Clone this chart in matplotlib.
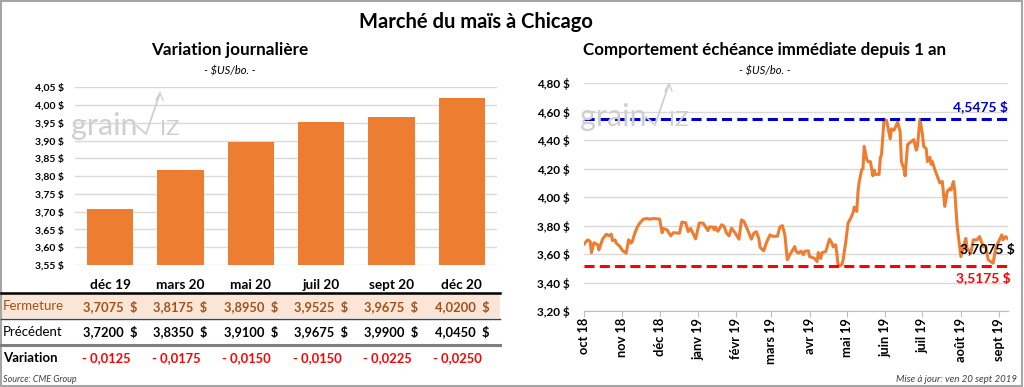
import matplotlib.pyplot as plt
from matplotlib.patches import Rectangle
from matplotlib.lines import Line2D
import matplotlib.transforms as mtransforms
import pandas as pd

plt.rcParams['font.family'] = ['Lato', 'DejaVu Sans']

# --- données : variation journalière ---
echeances = ["déc 19", "mars 20", "mai 20", "juil 20", "sept 20", "déc 20"]
fermeture = [3.7075, 3.8175, 3.8950, 3.9525, 3.9675, 4.0200]
precedent = [3.7200, 3.8350, 3.9100, 3.9675, 3.9900, 4.0450]

# --- données : échéance immédiate depuis 1 an ---
dates = ["2018-10-01", "2018-10-04", "2018-10-06", "2018-10-07", "2018-10-09", "2018-10-12",
         "2018-10-13", "2018-10-16", "2018-10-19", "2018-10-21", "2018-10-23", "2018-10-24",
         "2018-10-26", "2018-10-27", "2018-10-30", "2018-11-01", "2018-11-04", "2018-11-06",
         "2018-11-08", "2018-11-09", "2018-11-11", "2018-11-13", "2018-11-15", "2018-11-18",
         "2018-11-21", "2018-11-23", "2018-11-26", "2018-12-01", "2018-12-03", "2018-12-04",
         "2018-12-07", "2018-12-10", "2018-12-12", "2018-12-17", "2018-12-19", "2018-12-22",
         "2018-12-24", "2018-12-26", "2018-12-30", "2019-01-02", "2019-01-05", "2019-01-09",
         "2019-01-10", "2019-01-13", "2019-01-14", "2019-01-15", "2019-01-17", "2019-01-20",
         "2019-01-22", "2019-01-24", "2019-01-26", "2019-01-28", "2019-01-31", "2019-02-03",
         "2019-02-05", "2019-02-07", "2019-02-09", "2019-02-13", "2019-02-15", "2019-02-17",
         "2019-02-19", "2019-02-20", "2019-02-23", "2019-02-25", "2019-02-28", "2019-03-02",
         "2019-03-06", "2019-03-08", "2019-03-10", "2019-03-12", "2019-03-14", "2019-03-16",
         "2019-03-20", "2019-03-21", "2019-03-23", "2019-03-25", "2019-03-27", "2019-03-28",
         "2019-03-31", "2019-04-01", "2019-04-05", "2019-04-07", "2019-04-08", "2019-04-10",
         "2019-04-11", "2019-04-14", "2019-04-17", "2019-04-19", "2019-04-20", "2019-04-22",
         "2019-04-23", "2019-04-24", "2019-04-27", "2019-04-28", "2019-04-30", "2019-05-02",
         "2019-05-04", "2019-05-06", "2019-05-07", "2019-05-09", "2019-05-10", "2019-05-11",
         "2019-05-13", "2019-05-14", "2019-05-15", "2019-05-17", "2019-05-18", "2019-05-20",
         "2019-05-22", "2019-05-23", "2019-05-24", "2019-05-27", "2019-05-28", "2019-05-29",
         "2019-05-31", "2019-06-02", "2019-06-05", "2019-06-06", "2019-06-08", "2019-06-11",
         "2019-06-13", "2019-06-14", "2019-06-16", "2019-06-17", "2019-06-19", "2019-06-22",
         "2019-06-24", "2019-06-26", "2019-06-27", "2019-06-29", "2019-07-01", "2019-07-02",
         "2019-07-04", "2019-07-05", "2019-07-07", "2019-07-08", "2019-07-09", "2019-07-11",
         "2019-07-13", "2019-07-15", "2019-07-17", "2019-07-19", "2019-07-21", "2019-07-23",
         "2019-07-24", "2019-07-26", "2019-07-27", "2019-07-29", "2019-08-01", "2019-08-03",
         "2019-08-05", "2019-08-06", "2019-08-09", "2019-08-11", "2019-08-14", "2019-08-16",
         "2019-08-19", "2019-08-21", "2019-08-23", "2019-08-27", "2019-08-29", "2019-08-31",
         "2019-09-03", "2019-09-04", "2019-09-06", "2019-09-08"]
prix = [3.670, 3.700, 3.688, 3.610, 3.680, 3.665,
        3.630, 3.705, 3.740, 3.728, 3.740, 3.695,
        3.700, 3.677, 3.653, 3.625, 3.606, 3.700,
        3.677, 3.690, 3.747, 3.790, 3.818, 3.846,
        3.850, 3.845, 3.850, 3.846, 3.750, 3.780,
        3.770, 3.728, 3.750, 3.747, 3.825, 3.820,
        3.758, 3.780, 3.707, 3.818, 3.818, 3.765,
        3.790, 3.790, 3.770, 3.790, 3.760, 3.806,
        3.795, 3.747, 3.728, 3.782, 3.747, 3.705,
        3.840, 3.830, 3.790, 3.705, 3.747, 3.757,
        3.710, 3.648, 3.623, 3.677, 3.735, 3.725,
        3.725, 3.790, 3.800, 3.735, 3.560, 3.595,
        3.653, 3.620, 3.607, 3.620, 3.595, 3.620,
        3.623, 3.582, 3.570, 3.547, 3.610, 3.570,
        3.610, 3.618, 3.705, 3.677, 3.650, 3.665,
        3.600, 3.5175, 3.525, 3.560, 3.677, 3.818,
        3.850, 3.890, 3.930, 3.900, 4.040, 4.110,
        4.193, 4.200, 4.357, 4.268, 4.250, 4.250,
        4.150, 4.190, 4.160, 4.160, 4.275, 4.300,
        4.5475, 4.540, 4.410, 4.480, 4.470, 4.526,
        4.460, 4.250, 4.200, 4.150, 4.370, 4.390,
        4.404, 4.330, 4.360, 4.5475, 4.440, 4.357,
        4.340, 4.250, 4.280, 4.230, 4.250, 4.193,
        4.146, 4.100, 4.110, 3.935, 4.040, 4.060,
        4.050, 4.110, 4.050, 3.794, 3.582, 3.653,
        3.710, 3.640, 3.606, 3.700, 3.700, 3.723,
        3.653, 3.660, 3.560, 3.536, 3.640, 3.680,
        3.735, 3.700, 3.723, 3.7075]
mois = ["oct 18", "nov 18", "déc 18", "janv 19", "févr 19", "mars 19",
        "avr 19", "mai 19", "juin 19", "juil 19", "août 19", "sept 19"]

haut = max(prix)
bas = min(prix)
dernier = prix[-1]

W, H = 1024, 387
ORANGE = '#ED7D31'
GRID = '#D9D9D9'


def fr(v, n):
    return f"{v:.{n}f}".replace('.', ',')


def px(x, y):
    return x / W, 1 - y / H


fig = plt.figure(figsize=(W / 100, H / 100), dpi=100)

# cadre
fig.patches.append(Rectangle((0.001, 0.002), 0.997, 0.995, transform=fig.transFigure,
                             fill=False, edgecolor='#A6A6A6', lw=1.5))

fig.text(*px(476, 22), "Marché du maïs à Chicago", ha='center', va='center',
         fontsize=14.5, fontweight='bold')
fig.text(*px(230, 50), "Variation journalière", ha='center', va='center',
         fontsize=12.3, fontweight='bold')
fig.text(*px(230, 71), "- $US/bo. -", ha='center', va='center', fontsize=8, style='italic')
fig.text(*px(765, 50), "Comportement échéance immédiate depuis 1 an", ha='center',
         va='center', fontsize=12.2, fontweight='bold')
fig.text(*px(765, 71), "- $US/bo. -", ha='center', va='center', fontsize=8, style='italic')


def logo(x0, y0):
    # filigrane grainViz
    c = '#CFCFCF'
    fig.text(*px(x0, y0), "grain", ha='left', va='baseline', fontsize=22, color=c)
    xs = [x0 + 66, x0 + 75, x0 + 89]
    ys = [y0 - 9, y0 - 1, y0 - 42]
    fig.add_artist(Line2D([px(a, b)[0] for a, b in zip(xs, ys)],
                          [px(a, b)[1] for a, b in zip(xs, ys)],
                          transform=fig.transFigure, color=c, lw=1.3))
    fig.add_artist(Line2D([px(x0 + 85, 0)[0], px(x0 + 89, 0)[0], px(x0 + 92, 0)[0]],
                          [px(0, y0 - 35)[1], px(0, y0 - 42)[1], px(0, y0 - 35)[1]],
                          transform=fig.transFigure, color=c, lw=1.0))
    fig.text(*px(x0 + 89, y0), "IZ", ha='left', va='baseline', fontsize=16, color=c)


# ---------- graphique à barres ----------
ax1 = fig.add_axes([75 / W, 1 - 265 / H, 422 / W, 177.7 / H])
xpos = list(range(len(echeances)))
ax1.bar(xpos, fermeture, width=0.66, color=ORANGE, zorder=3)
ax1.set_ylim(3.55, 4.05)
ax1.set_xlim(-0.5, len(echeances) - 0.5)
yt = [3.55 + 0.05 * i for i in range(11)]
ax1.set_yticks(yt)
ax1.set_yticklabels([fr(v, 2) + " $" for v in yt], fontsize=7.5, fontweight='bold')
ax1.grid(axis='y', color=GRID, lw=1, zorder=0)
ax1.set_xticks([])
for s in ax1.spines.values():
    s.set_visible(False)
ax1.tick_params(axis='y', length=0, pad=8)
logo(71, 135)

# tableau
tr = mtransforms.blended_transform_factory(ax1.transData, fig.transFigure)
fig.patches.append(Rectangle(px(1, 318), 499 / W, 25 / H, transform=fig.transFigure,
                             facecolor='#FBE5D6', edgecolor='none', zorder=-5))
fig.add_artist(Line2D([1 / W, 500 / W], [px(0, 293)[1]] * 2, transform=fig.transFigure,
                      color='black', lw=1.8))
fig.add_artist(Line2D([1 / W, 500 / W], [px(0, 318.5)[1]] * 2, transform=fig.transFigure,
                      color='#404040', lw=1))
fig.add_artist(Line2D([1 / W, 500 / W], [px(0, 344.5)[1]] * 2, transform=fig.transFigure,
                      color='#7F7F7F', lw=2.2))
fig.text(*px(3, 306.5), "Fermeture", ha='left', va='center', fontsize=9.5, color='#A0521A')
fig.text(*px(3, 332), "Précédent", ha='left', va='center', fontsize=9.5)
fig.text(*px(3, 358), "Variation", ha='left', va='center', fontsize=9.5, fontweight='bold')
for i in xpos:
    ax1.text(i, px(0, 285)[1], echeances[i], transform=tr, ha='center', va='center',
             fontsize=9.8, fontweight='bold')
    ax1.text(i, px(0, 306.5)[1], fr(fermeture[i], 4) + "  $", transform=tr, ha='center',
             va='center', fontsize=9.3, fontweight='bold', color='#A0521A')
    ax1.text(i, px(0, 332)[1], fr(precedent[i], 4) + "  $", transform=tr, ha='center',
             va='center', fontsize=9.3, fontweight='bold')
    var = fermeture[i] - precedent[i]
    ax1.text(i - 0.06, px(0, 358)[1], "- " + fr(abs(var), 4), transform=tr, ha='center',
             va='center', fontsize=9.3, fontweight='bold', color='#FF0000')
fig.text(*px(3, 379), "Source: CME Group", ha='left', va='center', fontsize=6.5,
         style='italic', color='#404040')

# ---------- courbe ----------
ax2 = fig.add_axes([584 / W, 1 - 311 / H, 424 / W, 227.7 / H])
d = pd.to_datetime(dates)
ax2.plot(d, prix, color=ORANGE, lw=2.2, zorder=3, solid_joinstyle='round')
ax2.axhline(haut, color='#0000CC', lw=2.2, ls=(0, (3.3, 1.7)), zorder=4)
ax2.axhline(bas, color='#FF0000', lw=2.2, ls=(0, (3.3, 1.7)), zorder=4)
ax2.set_ylim(3.20, 4.80)
ax2.set_xlim(pd.Timestamp("2018-10-01"), pd.Timestamp("2019-09-08"))
yt2 = [3.20 + 0.2 * i for i in range(9)]
ax2.set_yticks(yt2)
ax2.set_yticklabels([fr(v, 2) + " $" for v in yt2], fontsize=8.5, fontweight='bold')
ax2.grid(axis='y', color=GRID, lw=1, zorder=0)
ticks = pd.date_range("2018-10-01", periods=len(mois), freq='MS')
ax2.set_xticks(ticks)
ax2.set_xticklabels(mois, rotation=90, fontsize=9.3, fontweight='bold')
for k in ['top', 'right', 'left']:
    ax2.spines[k].set_visible(False)
ax2.spines['bottom'].set_color('#BFBFBF')
ax2.tick_params(axis='y', length=0, pad=10)
ax2.tick_params(axis='x', length=4, color='#BFBFBF', pad=1)

ax2.text(1.0, haut + 0.045, fr(haut, 4) + " $", transform=ax2.get_yaxis_transform(),
         ha='right', va='bottom', fontsize=10, fontweight='bold', color='#0000CC')
ax2.text(1.006, bas - 0.04, fr(bas, 4) + " $", transform=ax2.get_yaxis_transform(),
         ha='right', va='top', fontsize=10, fontweight='bold', color='#FF0000')
ax2.text(1.016, dernier - 0.07, fr(dernier, 4) + " $", transform=ax2.get_yaxis_transform(),
         ha='right', va='center', fontsize=10, fontweight='bold', color='black', zorder=5)
logo(580, 126)

fig.text(*px(1017, 379), "Mise à jour: ven 20 sept 2019", ha='right', va='center',
         fontsize=7, style='italic', color='#404040')

fig.savefig("out.png", dpi=100)
